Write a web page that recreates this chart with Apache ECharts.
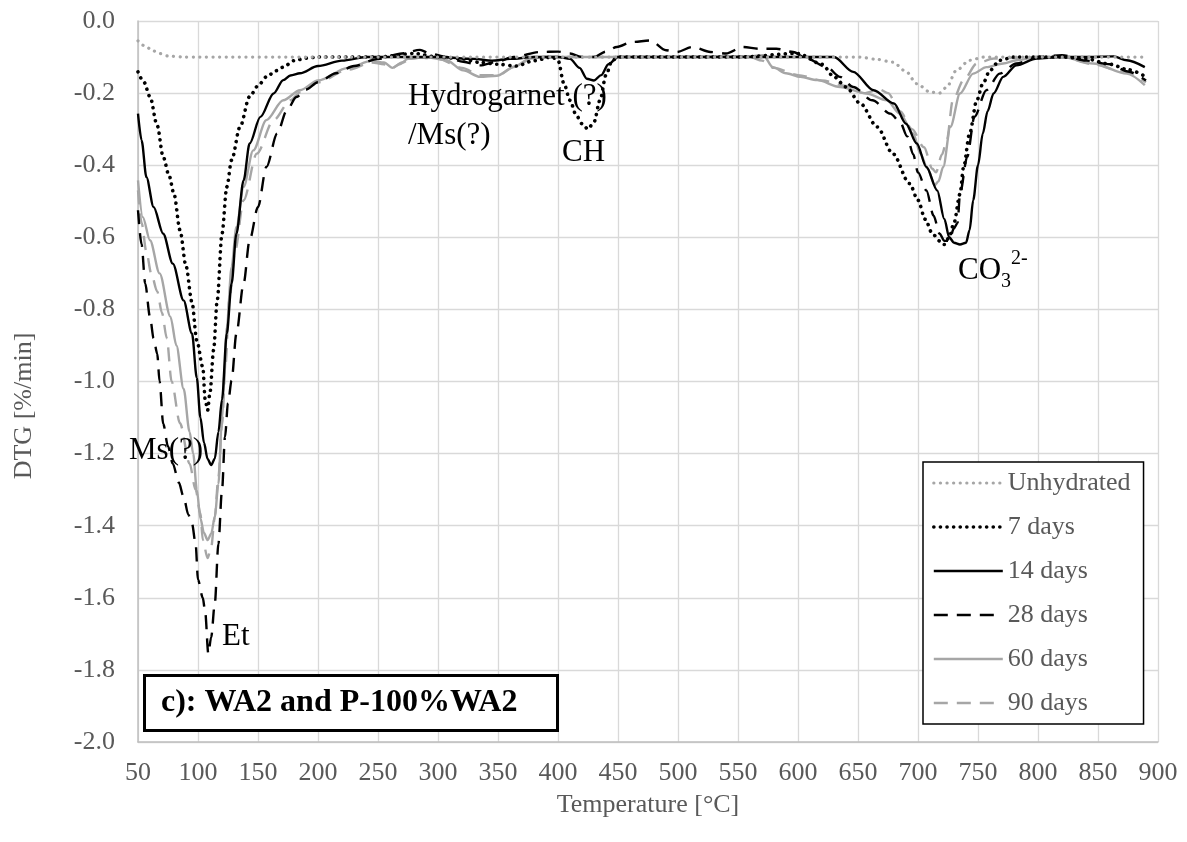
<!DOCTYPE html>
<html>
<head>
<meta charset="utf-8">
<script src="https://cdn.jsdelivr.net/npm/echarts@6/dist/echarts.min.js"></script>
<style>
html,body{margin:0;padding:0;background:#fff;}
#chart{width:1187px;height:842px;}
</style>
</head>
<body>
<div id="chart"></div>
<script>
// ---------------- DATA ----------------
const seriesNames = ['Unhydrated', '7 days', '14 days', '28 days', '60 days', '90 days'];
const xTicks = [50,100,150,200,250,300,350,400,450,500,550,600,650,700,750,800,850,900];

const unhydratedT = [50,57,62,68,75,88,100,200,300,400,500,600,640,651,665,679,690,699,710,718,724,732,743,755,765,800,850,890];
const unhydratedV = [-0.055,-0.072,-0.082,-0.09,-0.097,-0.1,-0.1,-0.1,-0.1,-0.1,-0.1,-0.1,-0.1,-0.1,-0.106,-0.114,-0.14,-0.174,-0.197,-0.2,-0.183,-0.137,-0.109,-0.1,-0.1,-0.1,-0.1,-0.1];

const d7T = [50,55,60,66,71,76,80,85,90,95,99,104,106,108,110,113,116,120,124,128,135,143,150,157,165,171,180,190,200,250,280,300,320,335,350,365,380,395,400,405,410,415,420,425,430,435,440,445,450,500,550,600,620,630,640,652,666,679,693,700,706,712,718,722,726,730,735,738,743,749,754,760,768,780,800,820,840,860,875,890];
const d7V = [-0.141,-0.17,-0.21,-0.29,-0.377,-0.43,-0.48,-0.58,-0.68,-0.78,-0.886,-0.96,-1.05,-1.08,-1.03,-0.913,-0.775,-0.59,-0.46,-0.386,-0.294,-0.21,-0.18,-0.155,-0.138,-0.128,-0.11,-0.103,-0.1,-0.1,-0.09,-0.1,-0.105,-0.115,-0.12,-0.125,-0.11,-0.1,-0.109,-0.174,-0.22,-0.26,-0.285,-0.3,-0.28,-0.22,-0.15,-0.11,-0.1,-0.1,-0.1,-0.09,-0.12,-0.155,-0.183,-0.229,-0.294,-0.368,-0.451,-0.497,-0.55,-0.59,-0.61,-0.62,-0.6,-0.56,-0.48,-0.405,-0.312,-0.22,-0.174,-0.137,-0.109,-0.1,-0.1,-0.1,-0.105,-0.12,-0.135,-0.155];

const d14T = [50,53,57,63,71,79,88,95,99,102,105,108,111,114,117,120,124,128,132,138,143,152,163,171,177,185,200,220,240,260,300,330,345,360,380,400,410,418,424,430,436,442,450,500,550,600,630,646,663,680,690,699,707,716,722,726,730,735,740,743,746,750,754,758,763,771,782,799,818,840,863,874,889];
const d14V = [-0.257,-0.331,-0.433,-0.516,-0.59,-0.673,-0.775,-0.867,-0.99,-1.1,-1.17,-1.215,-1.232,-1.214,-1.14,-1.05,-0.867,-0.728,-0.59,-0.442,-0.34,-0.266,-0.201,-0.164,-0.151,-0.145,-0.125,-0.11,-0.1,-0.1,-0.1,-0.105,-0.11,-0.105,-0.1,-0.1,-0.105,-0.13,-0.16,-0.165,-0.15,-0.12,-0.1,-0.1,-0.1,-0.1,-0.1,-0.141,-0.192,-0.229,-0.285,-0.34,-0.405,-0.47,-0.55,-0.6,-0.615,-0.62,-0.615,-0.58,-0.497,-0.4,-0.312,-0.25,-0.201,-0.155,-0.123,-0.104,-0.1,-0.1,-0.098,-0.109,-0.128];

const d28T = [50,53,56,60,63,66,68,71,75,79,84,88,92,95,98,100,104,106,108.6,111,114,117,120,122.5,125,128,132,138,143,150,157,166,174,182,190,200,215,230,250,270,285,293,307,321,335,349,363,385,400,410,420,430,440,449,462,477,490,499,512,527,540,554,568,582,596,607,624,635,646,662,677,685,691,696,700,707,713,718,722,726,730,733,735,741,747,757,768,782,800,820,840,860,875,890];
const d28V = [-0.525,-0.62,-0.728,-0.821,-0.88,-0.923,-1.0,-1.117,-1.18,-1.228,-1.28,-1.32,-1.37,-1.394,-1.45,-1.55,-1.6,-1.64,-1.755,-1.709,-1.616,-1.45,-1.302,-1.154,-1.06,-0.997,-0.867,-0.728,-0.608,-0.516,-0.405,-0.312,-0.248,-0.211,-0.19,-0.17,-0.145,-0.125,-0.105,-0.09,-0.08,-0.09,-0.1,-0.113,-0.123,-0.113,-0.1,-0.086,-0.085,-0.09,-0.1,-0.1,-0.085,-0.072,-0.058,-0.054,-0.081,-0.086,-0.072,-0.086,-0.09,-0.072,-0.077,-0.077,-0.086,-0.104,-0.128,-0.155,-0.183,-0.22,-0.257,-0.28,-0.32,-0.37,-0.42,-0.47,-0.54,-0.59,-0.61,-0.61,-0.575,-0.56,-0.479,-0.377,-0.266,-0.192,-0.146,-0.118,-0.1,-0.095,-0.11,-0.12,-0.14,-0.165];

const d60T = [50,54,60,68,77,82,88,93,96,99,102,105,108,111,114,117,120,122,124,128,132,138,146,157,171,185,200,225,245,255,262,268,275,290,307,321,335,349,363,377,390,450,500,560,571,579,590,602,616,635,657,674,685,696,702,708,714,717,721,727,735,746,757,771,782,800,820,846,874,889];
const d60V = [-0.442,-0.544,-0.608,-0.7,-0.82,-0.9,-1.02,-1.14,-1.2,-1.3,-1.38,-1.42,-1.44,-1.422,-1.376,-1.284,-1.1,-0.98,-0.85,-0.682,-0.571,-0.46,-0.359,-0.275,-0.22,-0.192,-0.165,-0.13,-0.11,-0.115,-0.13,-0.12,-0.105,-0.1,-0.109,-0.137,-0.155,-0.152,-0.128,-0.104,-0.1,-0.1,-0.1,-0.098,-0.095,-0.128,-0.145,-0.155,-0.164,-0.183,-0.201,-0.22,-0.257,-0.312,-0.368,-0.41,-0.455,-0.445,-0.405,-0.294,-0.201,-0.146,-0.128,-0.118,-0.109,-0.1,-0.1,-0.118,-0.146,-0.178];

const d90T = [50,53,57,61,66,70,74,78,85,93,98,102,104,108,111,114,117,120,123,126,131,138,149,163,177,185,200,225,245,255,262,270,280,300,320,335,350,365,380,500,560,570,580,600,620,640,655,668,675,685,695,705,712,715,720,724,729,738,749,763,800,820,846,870,890];
const d90V = [-0.47,-0.56,-0.64,-0.7,-0.75,-0.81,-0.88,-1.0,-1.116,-1.228,-1.3,-1.366,-1.44,-1.49,-1.46,-1.376,-1.265,-1.12,-0.95,-0.775,-0.636,-0.497,-0.368,-0.275,-0.22,-0.198,-0.17,-0.135,-0.115,-0.12,-0.13,-0.115,-0.1,-0.105,-0.13,-0.15,-0.15,-0.125,-0.1,-0.1,-0.1,-0.11,-0.13,-0.15,-0.165,-0.18,-0.2,-0.19,-0.2,-0.25,-0.3,-0.35,-0.41,-0.42,-0.37,-0.331,-0.22,-0.164,-0.118,-0.104,-0.1,-0.1,-0.12,-0.14,-0.17];

// ---------------- CHART ----------------
const FONT = '"Liberation Serif", "Times New Roman", serif';
const GRAY = '#A6A6A6';
function zip(t, v) { return t.map((x, i) => [x, v[i]]); }

const styles = [
  {color: GRAY,   width: 3.2, type: [0.1, 6.5], cap: 'round'},
  {color: '#000', width: 3.6, type: [0.1, 6.5], cap: 'round'},
  {color: '#000', width: 2.4, type: 'solid', cap: 'butt'},
  {color: '#000', width: 2.4, type: [14, 9], cap: 'butt'},
  {color: GRAY,   width: 2.4, type: 'solid', cap: 'butt'},
  {color: GRAY,   width: 2.4, type: [14, 9], cap: 'butt'}
];
const datasets = [
  zip(unhydratedT, unhydratedV), zip(d7T, d7V), zip(d14T, d14V),
  zip(d28T, d28V), zip(d60T, d60V), zip(d90T, d90V)
];

const series = seriesNames.map((name, i) => ({
  name: name,
  type: 'line',
  data: datasets[i],
  showSymbol: false,
  symbol: 'circle',
  smooth: 0.3,
  smoothMonotone: 'x',
  color: styles[i].color,
  itemStyle: {color: styles[i].color},
  lineStyle: {color: styles[i].color, width: styles[i].width, type: styles[i].type, cap: styles[i].cap},
  z: 10 - i,
  animation: false
}));

const legendData = seriesNames.map((name, i) => ({
  name: name,
  lineStyle: {color: styles[i].color, width: styles[i].width, type: styles[i].type, cap: styles[i].cap}
}));

const chart = echarts.init(document.getElementById('chart'), null, {renderer: 'canvas'});
chart.setOption({
  backgroundColor: '#fff',
  animation: false,
  grid: {left: 138, right: 29, top: 21, bottom: 100, containLabel: false},
  xAxis: {
    type: 'value', min: 50, max: 900, interval: 50,
    axisLine: {show: true, onZero: false, lineStyle: {color: '#BFBFBF', width: 1.5}},
    axisTick: {show: false},
    splitLine: {show: true, lineStyle: {color: '#D9D9D9', width: 1.3}},
    axisLabel: {color: '#595959', fontSize: 26, fontFamily: FONT, margin: 18},
    name: 'Temperature [°C]', nameLocation: 'middle', nameGap: 50,
    nameTextStyle: {color: '#595959', fontSize: 26, fontFamily: FONT}
  },
  yAxis: {
    type: 'value', min: -2, max: 0, interval: 0.2,
    axisLine: {show: true, lineStyle: {color: '#BFBFBF', width: 1.5}},
    axisTick: {show: false},
    splitLine: {show: true, lineStyle: {color: '#D9D9D9', width: 1.3}},
    axisLabel: {color: '#595959', fontSize: 26, fontFamily: FONT, margin: 23,
      formatter: v => v.toFixed(1)}
  },
  legend: {
    orient: 'vertical', left: 923, top: 462,
    backgroundColor: '#fff', borderColor: '#000', borderWidth: 1.5,
    padding: [6, 13, 6, 9],
    itemWidth: 69, itemHeight: 30, itemGap: 14,
    itemStyle: {opacity: 0},
    textStyle: {color: '#595959', fontSize: 26, fontFamily: FONT, lineHeight: 30},
    data: legendData
  },
  title: {
    text: 'c): WA2 and P-100%WA2',
    left: 144, top: 675,
    borderColor: '#000', borderWidth: 3, backgroundColor: '#fff',
    padding: [12, 40, 12, 17],
    textStyle: {color: '#000', fontSize: 32, fontWeight: 'bold', fontFamily: FONT, lineHeight: 32}
  },
  graphic: [
    {type: 'text', z: 100, style: {x: 24, y: 406, text: 'DTG [%/min]', fill: '#595959', font: '26px ' + FONT, align: 'center', verticalAlign: 'middle'}, rotation: Math.PI / 2, originX: 24, originY: 406},
    {type: 'text', z: 100, style: {x: 408, y: 97, text: 'Hydrogarnet (?)', fill: '#000', font: '31px ' + FONT, verticalAlign: 'middle'}},
    {type: 'text', z: 100, style: {x: 408, y: 136, text: '/Ms(?)', fill: '#000', font: '31px ' + FONT, verticalAlign: 'middle'}},
    {type: 'text', z: 100, style: {x: 562, y: 153, text: 'CH', fill: '#000', font: '31px ' + FONT, verticalAlign: 'middle'}},
    {type: 'text', z: 100, style: {x: 129, y: 451, text: 'Ms(?)', fill: '#000', font: '31px ' + FONT, verticalAlign: 'middle'}},
    {type: 'text', z: 100, style: {x: 222, y: 637, text: 'Et', fill: '#000', font: '31px ' + FONT, verticalAlign: 'middle'}},
    {type: 'text', z: 100, style: {x: 958, y: 271, text: 'CO', fill: '#000', font: '31px ' + FONT, verticalAlign: 'middle'}},
    {type: 'text', z: 100, style: {x: 1001, y: 282, text: '3', fill: '#000', font: '20px ' + FONT, verticalAlign: 'middle'}},
    {type: 'text', z: 100, style: {x: 1011, y: 259, text: '2-', fill: '#000', font: '20px ' + FONT, verticalAlign: 'middle'}}
  ],
  series: series
});
</script>
</body>
</html>
